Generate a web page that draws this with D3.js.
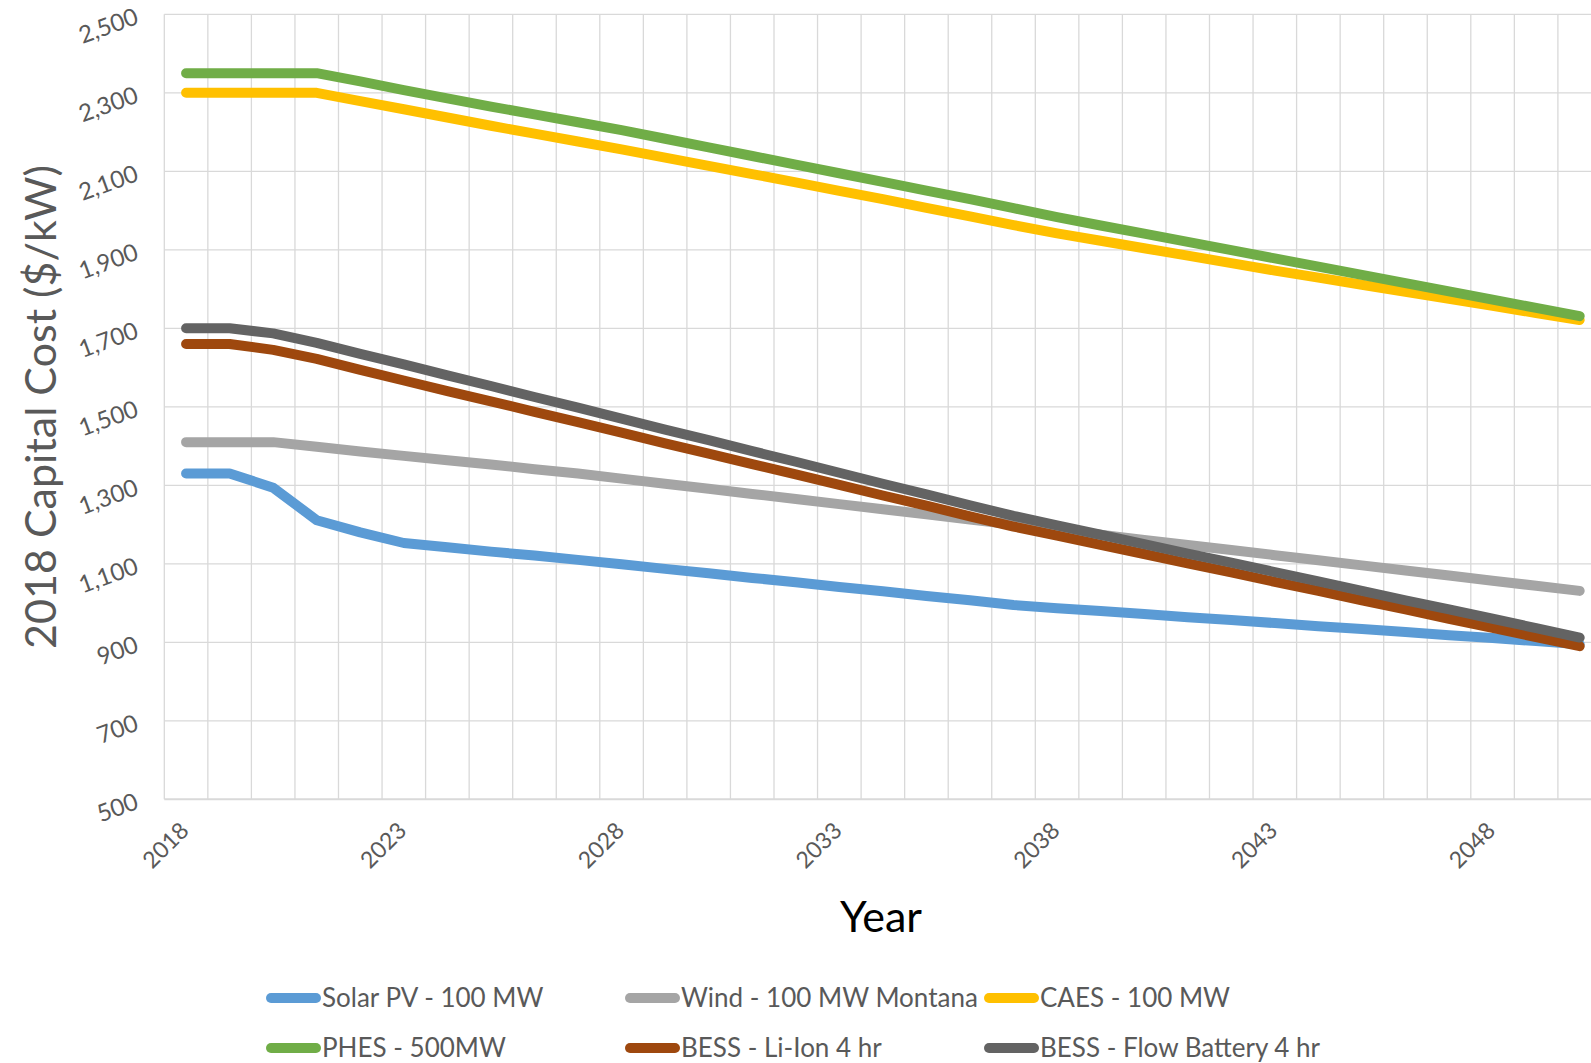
<!DOCTYPE html>
<html>
<head>
<meta charset="utf-8">
<script src="https://cdn.jsdelivr.net/npm/d3@7"></script>
<style>
  html, body { margin: 0; padding: 0; background: #fff; }
  svg { display: block; }
  text { font-family: Lato, "Open Sans", sans-serif; }
</style>
</head>
<body>
<svg id="chart" width="1591" height="1063"></svg>
<script>
const years = d3.range(2018, 2051);
const yTicks = [500, 700, 900, 1100, 1300, 1500, 1700, 1900, 2100, 2300, 2500];
const xTickLabels = [2018, 2023, 2028, 2033, 2038, 2043, 2048];

const seriesNames = ["Solar PV - 100 MW", "Wind - 100 MW Montana", "CAES - 100 MW",
                     "PHES - 500MW", "BESS - Li-Ion 4 hr", "BESS - Flow Battery 4 hr"];
const seriesColors = ["#5B9BD5", "#A5A5A5", "#FFC000", "#70AD47", "#9E480E", "#636363"];

const solarPV = [1330, 1330, 1294, 1211, 1180, 1153, 1142, 1131, 1121, 1110, 1099, 1087,
  1076, 1064, 1053, 1041, 1030, 1018, 1007, 995, 987, 980, 972, 964, 957, 949, 941, 934,
  926, 918, 911, 903, 895];
const windMontana = [1410, 1410, 1410, 1398, 1386, 1375, 1364, 1353, 1341, 1330, 1317, 1304,
  1291, 1278, 1265, 1252, 1239, 1226, 1213, 1200, 1187, 1174, 1161, 1148, 1135, 1122, 1109,
  1096, 1083, 1070, 1057, 1044, 1031];
const caes = [2300, 2300, 2300, 2300, 2279, 2258, 2237, 2216, 2196, 2176, 2156, 2135, 2114,
  2093, 2072, 2050, 2029, 2007, 1985, 1963, 1942, 1923, 1904, 1885, 1866, 1847, 1829, 1811,
  1793, 1775, 1757, 1739, 1721];
const phes = [2350, 2350, 2350, 2350, 2329, 2307, 2286, 2265, 2245, 2225, 2205, 2183, 2161,
  2139, 2117, 2095, 2073, 2051, 2029, 2006, 1983, 1962, 1941, 1920, 1899, 1878, 1857, 1836,
  1815, 1794, 1773, 1752, 1731];
const liIon = [1660, 1660, 1645, 1622, 1594, 1567, 1540, 1514, 1487, 1461, 1434, 1407, 1381,
  1354, 1328, 1301, 1274, 1248, 1221, 1195, 1172, 1148, 1125, 1101, 1078, 1054, 1031, 1007,
  984, 960, 937, 913, 890];
const flowBattery = [1700, 1700, 1687, 1663, 1635, 1608, 1580, 1553, 1525, 1498, 1470, 1442,
  1415, 1387, 1360, 1332, 1304, 1277, 1249, 1222, 1198, 1174, 1150, 1126, 1103, 1079, 1055,
  1031, 1007, 984, 960, 936, 912];

const seriesValues = [solarPV, windMontana, caes, phes, liIon, flowBattery];

const svg = d3.select("#chart");
const plot = { left: 164.3, top: 14.3, bottom: 799.3, step: 43.55 };
plot.right = plot.left + plot.step * years.length;

const x = d3.scaleBand().domain(years).range([plot.left, plot.right]).paddingInner(0).paddingOuter(0);
const y = d3.scaleLinear().domain([500, 2500]).range([plot.bottom, plot.top]);
const cx = yr => x(yr) + x.bandwidth() / 2;

const grid = svg.append("g");
grid.selectAll("line.h").data(yTicks).join("line")
  .attr("x1", plot.left).attr("x2", plot.right)
  .attr("y1", d => y(d)).attr("y2", d => y(d))
  .attr("stroke", "#d9d9d9").attr("stroke-width", d => d === 500 ? 2 : 1.3);
grid.selectAll("line.v").data(years.concat([null])).join("line")
  .attr("x1", (d, i) => plot.left + i * x.bandwidth())
  .attr("x2", (d, i) => plot.left + i * x.bandwidth())
  .attr("y1", plot.top).attr("y2", plot.bottom)
  .attr("stroke", "#d9d9d9").attr("stroke-width", 1.3);

// y tick labels
svg.append("g").selectAll("text").data(yTicks).join("text")
  .attr("transform", d => `translate(137,${y(d) + 1}) rotate(-20)`)
  .attr("text-anchor", "end").attr("dy", "0.35em")
  .attr("fill", "#595959").attr("font-size", 24)
  .text(d => d3.format(",")(d));

// x tick labels
svg.append("g").selectAll("text").data(xTickLabels).join("text")
  .attr("transform", d => `translate(${cx(d) + 4},${832}) rotate(-45)`)
  .attr("text-anchor", "end")
  .attr("fill", "#595959").attr("font-size", 23)
  .text(d => d);

// axis titles
svg.append("text")
  .attr("transform", "translate(56,407) rotate(-90)")
  .attr("text-anchor", "middle")
  .attr("fill", "#595959").attr("font-size", 43)
  .text("2018 Capital Cost ($/kW)");
svg.append("text")
  .attr("x", 881).attr("y", 932)
  .attr("text-anchor", "middle")
  .attr("fill", "#000").attr("font-size", 43)
  .text("Year");

// lines
const line = d3.line().x((d, i) => cx(years[i])).y(d => y(d));
svg.append("g").selectAll("path").data(seriesValues).join("path")
  .attr("d", d => line(d))
  .attr("fill", "none")
  .attr("stroke", (d, i) => seriesColors[i])
  .attr("stroke-width", 10)
  .attr("stroke-linecap", "round")
  .attr("stroke-linejoin", "round");

// legend
const legendCols = [266, 625, 984];
const legendRows = [998, 1048];
const lg = svg.append("g");
seriesNames.forEach((name, i) => {
  const col = i % 3, row = Math.floor(i / 3);
  const lx = legendCols[col], ly = legendRows[row];
  lg.append("line")
    .attr("x1", lx + 5).attr("x2", lx + 50)
    .attr("y1", ly).attr("y2", ly)
    .attr("stroke", seriesColors[i]).attr("stroke-width", 10)
    .attr("stroke-linecap", "round");
  lg.append("text")
    .attr("x", lx + 56).attr("y", ly).attr("dy", "0.35em")
    .attr("fill", "#595959").attr("font-size", 26)
    .text(name);
});
</script>
</body>
</html>
